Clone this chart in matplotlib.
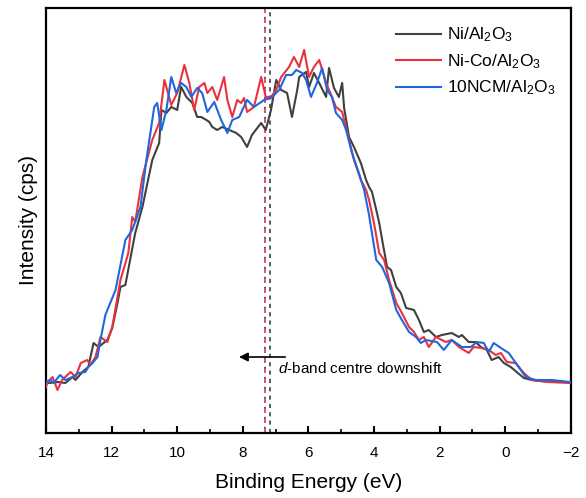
import matplotlib
matplotlib.use("Agg")
import matplotlib.pyplot as plt
from matplotlib.ticker import MultipleLocator

plt.rcParams['font.family'] = ['Liberation Sans', 'DejaVu Sans']
plt.rcParams['mathtext.fontset'] = 'custom'
plt.rcParams['mathtext.rm'] = 'Liberation Sans'
plt.rcParams['mathtext.it'] = 'Liberation Sans:italic'

# Ni/Al2O3
ni_e = [14.0, 13.92, 13.62, 13.41, 13.19, 13.10, 12.89, 12.71, 12.55, 12.40, 12.13, 11.98, 11.82, 11.73,
        11.58, 11.28, 11.06, 10.76, 10.55, 10.48, 10.33, 10.18, 10.00, 9.88, 9.72, 9.54, 9.39, 9.27, 9.11,
        9.02, 8.93, 8.78, 8.63, 8.41, 8.20, 8.05, 7.87, 7.72, 7.44, 7.30, 7.14, 6.98, 6.83, 6.65, 6.50,
        6.34, 6.28, 6.07, 5.98, 5.83, 5.67, 5.46, 5.37, 5.22, 5.07, 4.97, 4.91, 4.76, 4.61, 4.40, 4.24,
        4.15, 4.06, 3.93, 3.84, 3.75, 3.60, 3.48, 3.32, 3.18, 3.02, 2.78, 2.63, 2.48, 2.33, 2.11, 1.93,
        1.63, 1.41, 1.32, 1.11, 0.90, 0.74, 0.56, 0.41, 0.20, 0.04, -0.17, -0.35, -0.57, -0.81, -1.33, -1.97]
ni_i = [50, 50, 51, 50, 56, 53, 61, 66, 90, 86, 93, 105, 130, 146,
        148, 200, 226, 273, 290, 323, 320, 326, 323, 346, 336, 330, 316, 316, 313,
        311, 306, 303, 306, 303, 300, 296, 286, 298, 310, 303, 323, 353, 343, 340, 316,
        343, 356, 361, 346, 360, 350, 336, 365, 345, 336, 350, 325, 296, 286, 270, 253,
        246, 241, 223, 210, 193, 166, 163, 146, 140, 125, 123, 113, 101, 103, 96, 98,
        100, 96, 98, 91, 91, 86, 83, 73, 76, 70, 66, 61, 55, 53, 51, 51]

# Ni-Co/Al2O3
nico_e = [14.0, 13.95, 13.80, 13.65, 13.51, 13.25, 13.10, 12.94, 12.74, 12.65, 12.49, 12.34, 12.13, 11.98,
          11.73, 11.49, 11.37, 11.28, 11.06, 10.76, 10.55, 10.39, 10.18, 10.00, 9.78, 9.63, 9.48, 9.33,
          9.17, 9.08, 8.93, 8.78, 8.57, 8.47, 8.32, 8.17, 8.05, 7.96, 7.87, 7.66, 7.44, 7.30, 7.14, 6.98,
          6.83, 6.59, 6.44, 6.28, 6.13, 5.98, 5.83, 5.67, 5.46, 5.28, 5.16, 4.97, 4.76, 4.61, 4.40, 4.24,
          4.15, 4.00, 3.84, 3.69, 3.54, 3.32, 3.15, 2.93, 2.78, 2.63, 2.48, 2.33, 2.11, 1.81, 1.63, 1.41,
          1.11, 0.96, 0.71, 0.50, 0.29, 0.13, -0.05, -0.32, -0.57, -0.81, -1.33, -1.97]
nico_i = [46, 51, 56, 43, 53, 61, 56, 70, 73, 68, 76, 96, 91, 106,
          153, 180, 216, 211, 256, 293, 310, 353, 328, 340, 368, 350, 323, 346,
          350, 340, 346, 333, 356, 333, 316, 333, 330, 335, 321, 326, 356, 336, 336, 343,
          356, 366, 376, 366, 383, 356, 366, 373, 350, 336, 326, 321, 293, 273, 253, 243,
          233, 210, 180, 173, 153, 130, 120, 106, 101, 93, 96, 86, 96, 91, 93, 86,
          80, 86, 85, 83, 78, 80, 71, 70, 60, 53, 51, 50]

# 10NCM/Al2O3
ncm_e = [14.0, 13.86, 13.77, 13.57, 13.41, 13.19, 13.01, 12.80, 12.71, 12.58, 12.43, 12.34, 12.19, 11.88,
         11.58, 11.37, 11.12, 10.94, 10.70, 10.61, 10.48, 10.33, 10.18, 10.03, 9.88, 9.72, 9.57, 9.39,
         9.24, 9.08, 8.87, 8.66, 8.47, 8.32, 8.11, 7.87, 7.66, 7.35, 7.14, 6.89, 6.68, 6.50, 6.37, 6.19,
         6.07, 5.92, 5.74, 5.58, 5.43, 5.28, 5.16, 4.97, 4.85, 4.67, 4.46, 4.30, 4.15, 3.93, 3.75, 3.54,
         3.32, 3.15, 2.93, 2.72, 2.57, 2.42, 2.08, 1.87, 1.63, 1.32, 1.05, 0.86, 0.65, 0.50, 0.35, 0.13,
         -0.11, -0.41, -0.63, -0.93, -1.42, -1.97]
ncm_i = [51, 53, 50, 58, 53, 56, 60, 61, 66, 70, 76, 93, 118, 143,
         193, 203, 226, 273, 326, 330, 303, 323, 356, 340, 350, 346, 336, 345,
         340, 321, 331, 313, 300, 313, 316, 333, 326, 333, 335, 343, 358, 358, 363, 360,
         353, 336, 350, 365, 343, 336, 320, 313, 303, 280, 260, 243, 218, 173, 166, 150,
         123, 113, 101, 96, 90, 93, 91, 83, 93, 86, 86, 91, 90, 81, 90, 85,
         80, 66, 56, 53, 53, 51]

labels = ['Ni/Al$_2$O$_3$', 'Ni-Co/Al$_2$O$_3$', '10NCM/Al$_2$O$_3$']
colors = ['#404040', '#e8323c', '#2266dd']
dband_ni = 7.17
dband_shifted = 7.33
xticks = [14, 12, 10, 8, 6, 4, 2, 0, -2]

fig = plt.figure(figsize=(5.86, 4.98), dpi=100)
ax = fig.add_axes([0.0785, 0.1305, 0.8955, 0.8535])

ax.plot(ni_e, ni_i, color=colors[0], lw=1.5, label=labels[0], zorder=3)
ax.plot(nico_e, nico_i, color=colors[1], lw=1.5, label=labels[1], zorder=3)
ax.plot(ncm_e, ncm_i, color=colors[2], lw=1.5, label=labels[2], zorder=3)

ax.axvline(dband_shifted, color=colors[1], lw=1.2, ls=(0, (2.5, 3.5)), zorder=2)
ax.axvline(dband_shifted, color='#333a7a', lw=1.2, ls=(-2.5, (1.2, 4.8)), zorder=2)
ax.axvline(dband_ni, color=colors[0], lw=1.2, ls=(0, (2.5, 2.5)), zorder=2)

ax.annotate('', xy=(8.2, 76), xytext=(6.62, 76),
            arrowprops=dict(arrowstyle='-|>', color='black', lw=1.2, mutation_scale=13))
ax.text(6.94, 65, '$\\mathit{d}$-band centre downshift', fontsize=11, va='center', ha='left')

ax.set_xlim(14, -2)
ax.set_ylim(0, 425)
ax.set_xticks(xticks)
ax.xaxis.set_minor_locator(MultipleLocator(1))
ax.set_yticks([])
ax.tick_params(axis='x', which='major', direction='in', length=5, width=1.5, labelsize=11, pad=9)
ax.tick_params(axis='x', which='minor', direction='in', length=3, width=1.2)
ax.set_xticklabels(['\u22122' if t < 0 else str(t) for t in xticks])
for s in ax.spines.values():
    s.set_linewidth(1.6)

ax.set_xlabel('Binding Energy (eV)', fontsize=15, labelpad=10)
ax.set_ylabel('Intensity (cps)', fontsize=15, labelpad=6)

ax.legend(loc='upper right', bbox_to_anchor=(1.0, 0.995), frameon=False, fontsize=12.5,
          handlelength=2.6, handletextpad=0.3, labelspacing=0.45)

fig.savefig('out.png', dpi=100)
